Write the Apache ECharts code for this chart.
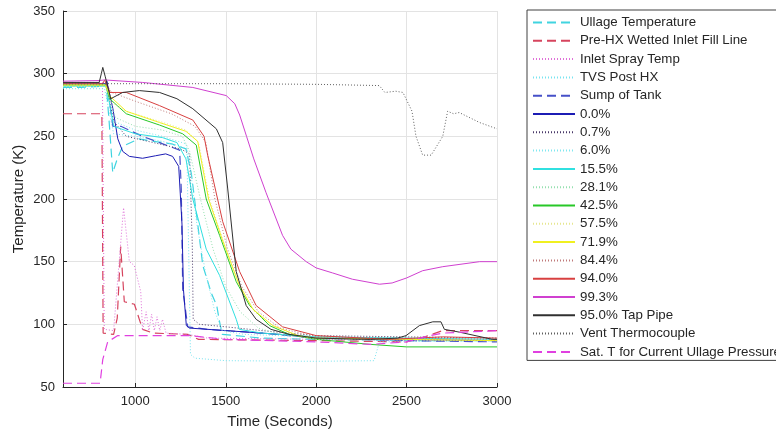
<!DOCTYPE html>
<html>
<head>
<meta charset="utf-8">
<script src="https://cdn.jsdelivr.net/npm/echarts@6/dist/echarts.min.js"></script>
<style>
html,body{margin:0;padding:0;background:#fff;}
#chart{width:776px;height:437px;}
</style>
</head>
<body>
<div id="chart"></div>
<script>
// ---- Data (time in seconds, temperature in K) ----
const xTickValues = [1000, 1500, 2000, 2500, 3000];

const seriesNames = [
  'Ullage Temperature', 'Pre-HX Wetted Inlet Fill Line', 'Inlet Spray Temp', 'TVS Post HX',
  'Sump of Tank', '0.0%', '0.7%', '6.0%', '15.5%', '28.1%', '42.5%', '57.5%', '71.9%',
  '84.4%', '94.0%', '99.3%', '95.0% Tap Pipe', 'Vent Thermocouple', 'Sat. T for Current Ullage Pressure'
];

const ullageTemp = [[600,289],[700,289],[830,290],[838,293],[855,262],[875,221],[900,232],[930,242],[1020,248],[1100,246],[1200,244],[1280,240],[1310,220],[1345,180],[1373,147],[1420,125],[1450,115],[1466,102],[1480,92],[1700,89],[2000,88],[2500,87],[3000,87]];
const preHxInlet = [[600,268],[815,268],[822,93],[880,92],[900,105],[919,162],[939,118],[995,116],[1040,96],[1100,93],[1290,92],[1350,88],[2000,87],[2500,86],[2600,90],[2700,95],[3000,95]];
const inletSpray = [[600,293],[818,293],[828,96],[880,95],[905,140],[935,193],[967,150],[994,147],[1030,126],[1040,95],[1060,110],[1075,95],[1090,108],[1105,95],[1120,106],[1135,95],[1150,104],[1170,93],[1290,92],[1400,89],[2000,88],[3000,87]];
const tvsPostHx = [[600,288],[830,288],[880,252],[1000,250],[1150,246],[1250,242],[1285,240],[1305,76],[1330,73],[1500,71],[2000,70.5],[2320,71],[2330,76],[2350,86],[3000,87]];
const sumpOfTank = [[600,292],[835,292],[842,294],[876,258],[920,258],[1040,250],[1170,243],[1245,239],[1254,208],[1262,128],[1290,98],[1400,96],[1700,93],[2000,89],[2500,87],[3000,86]];
const pct00 = [[600,292],[835,292],[842,294],[876,272],[903,248],[930,238],[967,234],[1040,232.5],[1112,234.5],[1168,236],[1206,234],[1240,226],[1258,180],[1266,128],[1282,99],[1300,97],[1500,95],[1800,92],[2000,89],[2500,88],[3000,87]];
const pct07 = [[600,291],[840,291],[880,262],[950,250],[1100,245],[1250,240],[1300,236],[1315,163],[1320,104],[1355,100],[1500,98],[1700,95],[2000,91],[3000,89]];
const pct60 = [[600,290],[840,290],[880,262],[1000,255],[1150,250],[1280,244],[1300,230],[1340,180],[1390,140],[1440,110],[1480,95],[1600,92],[2000,90],[3000,88]];
const pct155 = [[600,290],[840,290],[880,258],[1000,252],[1150,249],[1230,245],[1280,232],[1318,200],[1392,160],[1466,139],[1558,104],[1575,96],[1700,93],[2000,90],[3000,88]];
const pct281 = [[600,290],[840,290],[890,265],[1000,258],[1150,255],[1260,250],[1300,238],[1360,200],[1430,160],[1500,130],[1580,110],[1680,97],[1800,92],[2000,89],[3000,87]];
const pct425 = [[600,291],[835,291],[858,280],[950,268],[1134,259],[1262,252],[1337,243],[1392,200],[1466,171],[1558,134],[1632,115],[1742,99],[1850,92],[2000,88],[2300,84],[2500,82],[3000,82]];
const pct575 = [[600,290],[835,290],[860,278],[950,270],[1134,262],[1280,255],[1350,245],[1410,200],[1490,165],[1580,130],[1660,110],[1770,98],[1900,91],[2000,88],[3000,87]];
const pct719 = [[600,291],[835,291],[860,282],[950,270],[1134,261],[1280,254],[1345,246],[1405,200],[1480,168],[1570,133],[1650,112],[1760,99],[1900,91],[2000,89],[3000,87]];
const pct844 = [[600,292],[835,292],[870,285],[1000,278],[1200,268],[1330,258],[1390,245],[1440,200],[1510,160],[1590,130],[1680,110],[1800,97],[2000,90],[3000,88]];
const pct940 = [[600,292],[820,292],[830,295],[860,285],[950,285],[1134,274.5],[1318,263],[1380,250],[1400,235],[1483,182],[1577,142],[1668,115],[1814,98],[2000,91],[2400,88],[2700,90],[3000,89]];
const pct993 = [[600,294],[800,294.5],[830,295],[1040,293],[1318,289],[1503,282.5],[1550,276],[1577,267],[1615,250],[1655,232],[1723,205],[1814,171],[1860,160],[1945,150],[2000,145],[2091,141],[2200,136],[2350,132],[2420,133],[2500,137],[2589,142.8],[2700,146],[2904,150],[3000,150]];
const tapPipe95 = [[600,293],[800,293],[812,300],[820,305],[833,298],[864,280],[930,285],[1022,286.5],[1134,285],[1230,280],[1318,272],[1448,256],[1483,245],[1511,208],[1558,142],[1613,115],[1668,104],[1750,96],[1850,92],[2000,89],[2300,88],[2450,89],[2497,91],[2571,99],[2645,102],[2690,102],[2709,96],[2791,93.8],[2975,88],[3000,88]];
const ventTc = [[600,292],[1000,292],[1500,292],[2000,291.5],[2349,290.5],[2380,285],[2440,286],[2480,285],[2530,270],[2552,250],[2589,235],[2636,235],[2700,250],[2727,270],[2760,268],[2791,269],[2904,261],[3000,256]];
const satTUllage = [[600,53],[805,53],[820,72],[847,86],[903,91],[1300,91],[1500,88],[2000,86],[2300,84],[2500,86],[2600,90],[2700,93],[3000,95]];

const seriesData = [ullageTemp, preHxInlet, inletSpray, tvsPostHx, sumpOfTank, pct00, pct07, pct60, pct155, pct281,
  pct425, pct575, pct719, pct844, pct940, pct993, tapPipe95, ventTc, satTUllage];

// ---- Styles ----
const seriesColors = ['#40d4e0','#d6445e','#e070d8','#78e4f0','#4650c8','#1c1cb4','#4a3a6a','#80e8f0','#30e0e0','#96e0b0',
  '#28c828','#e6e690','#f0f020','#c07a7a','#d84040','#d040d0','#303030','#606060','#e040e0'];
const seriesDash = ['dashed','dashed','dotted','dotted','dashed','solid','dotted','dotted','solid','dotted',
  'solid','dotted','solid','dotted','solid','solid','solid','dotted','dashed'];

const dashMap = { solid: 'solid', dashed: [9, 5], dotted: [1, 2] };
const widthMap = { solid: 1, dashed: 1.2, dotted: 1 };
const FONT = '"Liberation Sans", Arial, sans-serif';
const AX = '#262626';

const series = seriesNames.map((name, i) => ({
  name: name,
  type: 'line',
  data: seriesData[i],
  symbol: 'none',
  showSymbol: false,
  animation: false,
  silent: true,
  color: seriesColors[i],
  lineStyle: { color: seriesColors[i], width: widthMap[seriesDash[i]], type: dashMap[seriesDash[i]] }
}));

const chart = echarts.init(document.getElementById('chart'), null, { renderer: 'canvas' });
chart.setOption({
  backgroundColor: '#ffffff',
  animation: false,
  grid: { left: 63, right: 279, top: 11, bottom: 50, containLabel: false },
  xAxis: {
    type: 'value', min: 600, max: 3000,
    name: 'Time (Seconds)', nameLocation: 'middle', nameGap: 27, nameMoveOverlap: false,
    nameTextStyle: { color: AX, fontSize: 15, fontFamily: FONT },
    axisLine: { show: true, onZero: false, lineStyle: { color: AX, width: 1 } },
    axisTick: { show: true, inside: true, length: 4, customValues: xTickValues, lineStyle: { color: AX } },
    axisLabel: { customValues: xTickValues, formatter: v => String(v), color: AX, fontSize: 13, fontFamily: FONT, margin: 8 },
    splitLine: { show: true, lineStyle: { color: '#e3e3e3', width: 1 } }
  },
  yAxis: {
    type: 'value', min: 50, max: 350, interval: 50,
    name: 'Temperature (K)', nameLocation: 'middle', nameGap: 37, nameMoveOverlap: false,
    nameTextStyle: { color: AX, fontSize: 15, fontFamily: FONT },
    axisLine: { show: true, onZero: false, lineStyle: { color: AX, width: 1 } },
    axisTick: { show: true, inside: true, length: 4, lineStyle: { color: AX } },
    axisLabel: { formatter: v => String(v), color: AX, fontSize: 13, fontFamily: FONT, margin: 8 },
    splitLine: { show: true, lineStyle: { color: '#e3e3e3', width: 1 } }
  },
  legend: {
    show: true,
    orient: 'vertical',
    left: 527, top: 10,
    padding: [6, 20, 2, 5],
    itemWidth: 42, itemHeight: 14, itemGap: 5.3,
    borderColor: '#404040', borderWidth: 1,
    backgroundColor: '#ffffff',
    selectedMode: false,
    itemStyle: { opacity: 0, borderWidth: 0 },
    textStyle: { color: AX, fontSize: 13.3, fontFamily: FONT },
    data: seriesNames
  },
  series: series
});
</script>
</body>
</html>
